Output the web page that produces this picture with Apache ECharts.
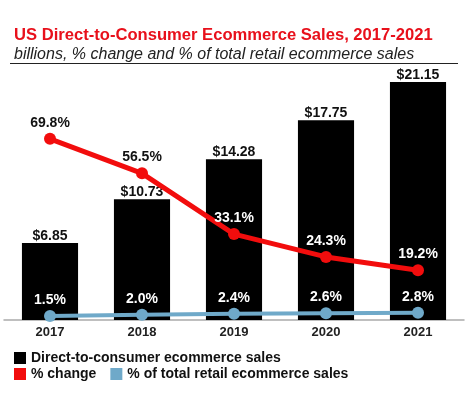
<!DOCTYPE html>
<html>
<head>
<meta charset="utf-8">
<script src="https://cdn.jsdelivr.net/npm/echarts@6/dist/echarts.min.js"></script>
<style>html,body{margin:0;padding:0;background:#fff}#c{width:470px;height:410px}</style>
</head>
<body>
<div id="c"></div>
<script>
const years = ['2017', '2018', '2019', '2020', '2021'];
const salesBillions = [6.85, 10.73, 14.28, 17.75, 21.15];
const pctChange = [69.8, 56.5, 33.1, 24.3, 19.2];
const pctOfTotal = [1.5, 2.0, 2.4, 2.6, 2.8];
const seriesNames = ['Direct-to-consumer ecommerce sales', '% change', '% of total retail ecommerce sales'];
const titleText = 'US Direct-to-Consumer Ecommerce Sales, 2017-2021';
const subtitleText = 'billions, % change and % of total retail ecommerce sales';

const FONT = '"Liberation Sans", Arial, sans-serif';
const chart = echarts.init(document.getElementById('c'));

// label color white where the point sits over a bar
const redData = pctChange.map((v, i) => ({
  value: v,
  label: { color: i >= 2 ? '#fff' : '#111' }
}));

chart.setOption({
  animation: false,
  textStyle: { fontFamily: FONT },
  title: {
    text: titleText,
    subtext: subtitleText,
    left: 9,
    top: 22,
    itemGap: 3,
    textStyle: { color: '#e8101b', fontSize: 16.6, fontWeight: 'bold', fontFamily: FONT },
    subtextStyle: { color: '#222', fontSize: 16, fontStyle: 'italic', fontFamily: FONT }
  },
  graphic: [{
    type: 'line',
    shape: { x1: 10, y1: 63.5, x2: 458, y2: 63.5 },
    style: { stroke: '#222', lineWidth: 1 }
  }],
  legend: [{
    data: [seriesNames[0]],
    left: 9, top: 346,
    icon: 'rect', itemWidth: 12, itemHeight: 12, itemGap: 10,
    textStyle: { fontSize: 14, fontWeight: 'bold', color: '#111', fontFamily: FONT }
  }, {
    data: [seriesNames[1], seriesNames[2]],
    left: 9, top: 362,
    icon: 'rect', itemWidth: 12, itemHeight: 12, itemGap: 14,
    textStyle: { fontSize: 14, fontWeight: 'bold', color: '#111', fontFamily: FONT }
  }],
  grid: { left: 4, right: 6, top: 50, bottom: 90 },
  xAxis: {
    type: 'category',
    data: years,
    axisLine: { lineStyle: { color: '#aaa', width: 1.5 } },
    axisTick: { show: false },
    axisLabel: { fontSize: 13, fontWeight: 'bold', color: '#222', margin: 6 }
  },
  yAxis: [
    { type: 'value', min: 0, max: 24, show: false, splitLine: { show: false } },
    { type: 'value', min: 0, max: 104, show: false, splitLine: { show: false } }
  ],
  series: [{
    name: seriesNames[0],
    type: 'bar',
    data: salesBillions,
    barWidth: '61%',
    itemStyle: { color: '#000' },
    label: {
      show: true, position: 'top', distance: 0,
      fontSize: 14, fontWeight: 'bold', color: '#111',
      formatter: p => '$' + p.value.toFixed(2)
    }
  }, {
    name: seriesNames[1],
    type: 'line',
    yAxisIndex: 1,
    data: redData,
    symbol: 'circle', symbolSize: 12,
    lineStyle: { color: '#f20d0d', width: 5 },
    itemStyle: { color: '#f20d0d' },
    label: {
      show: true, position: 'top', distance: 3,
      fontSize: 14, fontWeight: 'bold',
      formatter: p => p.value.toFixed(1) + '%'
    },
    z: 3
  }, {
    name: seriesNames[2],
    type: 'line',
    yAxisIndex: 1,
    data: pctOfTotal,
    symbol: 'circle', symbolSize: 12,
    lineStyle: { color: '#6fa9c9', width: 4 },
    itemStyle: { color: '#6fa9c9' },
    label: {
      show: true, position: 'top', distance: 3,
      fontSize: 14, fontWeight: 'bold', color: '#fff',
      formatter: p => p.value.toFixed(1) + '%'
    },
    z: 4
  }]
});
</script>
</body>
</html>
